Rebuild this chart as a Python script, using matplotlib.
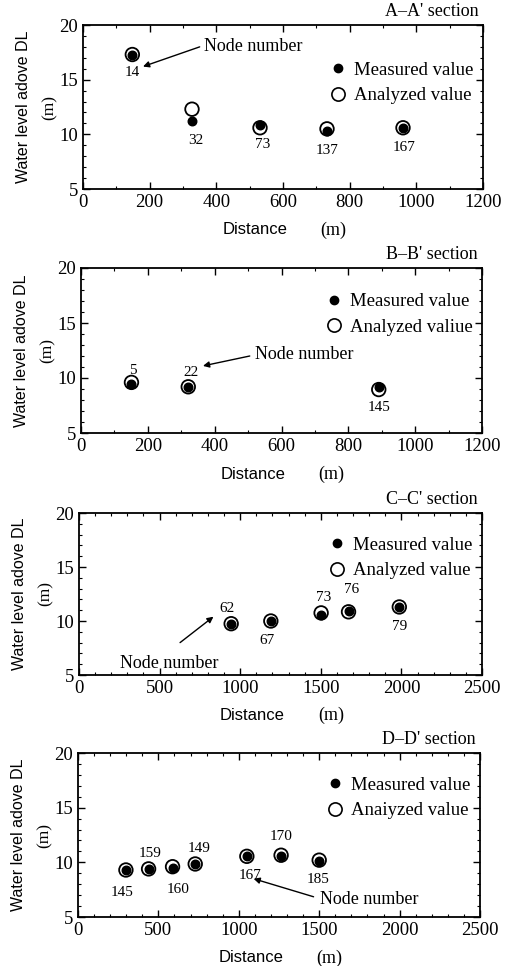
import matplotlib.pyplot as plt
from matplotlib.lines import Line2D
from matplotlib.ticker import MultipleLocator

plt.rcParams['font.family'] = ['Liberation Serif', 'DejaVu Serif']

# ---- data ----
a_nodes = ['14', '32', '73', '137', '167']
a_dist = [148, 327, 531, 732, 960]
a_meas = [17.3, 11.2, 10.85, 10.3, 10.6]
a_anal = [17.3, 12.3, 10.6, 10.5, 10.6]

b_nodes = ['5', '22', '145']
b_dist = [151, 321, 891]
b_meas = [9.5, 9.2, 9.2]
b_anal = [9.6, 9.2, 8.95]

c_nodes = ['62', '67', '73', '76', '79']
c_dist = [944, 1190, 1502, 1672, 1987]
c_meas = [9.75, 10.0, 10.55, 10.95, 11.3]
c_anal = [9.75, 10.0, 10.75, 10.85, 11.3]

d_nodes = ['145', '159', '160', '149', '167', '170', '185']
d_dist = [298, 439, 588, 729, 1050, 1263, 1500]
d_meas = [9.3, 9.4, 9.45, 9.85, 10.55, 10.6, 10.1]
d_anal = [9.3, 9.4, 9.6, 9.85, 10.55, 10.65, 10.2]

# label offsets (points) for node numbers
a_off = [(0, -13), (3, -14), (2, -14), (0, -14), (1, -14)]
b_off = [(1, 9), (2, 10), (0, -15)]
c_off = [(-3, 11), (-3, -14), (2, 13), (2, 15), (0, -14)]
d_off = [(-3, -16), (1, 11), (4, -15), (3, 11), (2, -14), (0, 14), (-1, -13)]

panels = [
    dict(title="A\u2013A' section", nodes=a_nodes, x=a_dist, m=a_meas, a=a_anal, off=a_off,
         xmax=1200, xmaj=200, xmin=100, leg2='Analyzed value', leg_y=0.835,
         rect=[83 / 513, 1 - 189 / 966, 400 / 513, 164 / 966],
         note=(350, 18.0), tip=(180, 16.2), ntext=(362, 18.05)),
    dict(title="B\u2013B' section", nodes=b_nodes, x=b_dist, m=b_meas, a=b_anal, off=b_off,
         xmax=1200, xmaj=200, xmin=100, leg2='Analyzed valiue', leg_y=0.905,
         rect=[81 / 513, 1 - 433 / 966, 401 / 513, 165 / 966],
         note=(505, 12.0), tip=(365, 11.1), ntext=(520, 12.1)),
    dict(title="C\u2013C' section", nodes=c_nodes, x=c_dist, m=c_meas, a=c_anal, off=c_off,
         xmax=2500, xmaj=500, xmin=100, leg2='Analyzed value', leg_y=0.915,
         rect=[79 / 513, 1 - 675 / 966, 403 / 513, 162 / 966],
         note=(627, 8.0), tip=(834, 10.4), ntext=(255, 6.1)),
    dict(title="D\u2013D' section", nodes=d_nodes, x=d_dist, m=d_meas, a=d_anal, off=d_off,
         xmax=2500, xmaj=500, xmin=100, leg2='Anaiyzed value', leg_y=0.915,
         rect=[78 / 513, 1 - 917 / 966, 402 / 513, 164 / 966],
         note=(1465, 6.85), tip=(1092, 8.5), ntext=(1506, 6.6)),
]

fig = plt.figure(figsize=(5.13, 9.66), dpi=100)

for p in panels:
    ax = fig.add_axes(p['rect'])
    ax.scatter(p['x'], p['a'], s=95, facecolors='none', edgecolors='black', linewidths=1.3, zorder=3)
    ax.scatter(p['x'], p['m'], s=38, color='black', zorder=4)

    for name, xv, yv, off in zip(p['nodes'], p['x'], p['m'], p['off']):
        ax.annotate(name, (xv, yv), xytext=off, textcoords='offset points',
                    ha='center', va='center', fontsize=11)

    ax.annotate('', xy=p['tip'], xytext=p['note'],
                arrowprops=dict(arrowstyle='-|>', color='black', lw=1, mutation_scale=9,
                                shrinkA=0, shrinkB=0))
    ax.text(p['ntext'][0], p['ntext'][1], 'Node number', fontsize=13, va='center', ha='left')

    handles = [Line2D([], [], marker='o', ls='none', color='black', markersize=6),
               Line2D([], [], marker='o', ls='none', markerfacecolor='none',
                      markeredgecolor='black', markeredgewidth=1.2, markersize=9.5)]
    ax.legend(handles, ['Measured value', p['leg2']], loc='upper right',
              bbox_to_anchor=(1.005, p['leg_y'] + 0.01), frameon=False, fontsize=13.5,
              borderpad=0.1, handletextpad=0.25, labelspacing=0.45, handlelength=1.2)

    ax.set_xlim(0, p['xmax'])
    ax.set_ylim(5, 20)
    ax.xaxis.set_major_locator(MultipleLocator(p['xmaj']))
    ax.xaxis.set_minor_locator(MultipleLocator(p['xmin']))
    ax.yaxis.set_major_locator(MultipleLocator(5))
    ax.yaxis.set_minor_locator(MultipleLocator(1))
    ax.tick_params(which='both', direction='in', top=True, right=True, labelsize=13.5)
    ax.tick_params(which='major', length=5, width=1)
    ax.tick_params(which='minor', length=2.5, width=0.8)
    for s in ax.spines.values():
        s.set_linewidth(1.3)

    ax.text(0.99, 1.03, p['title'], transform=ax.transAxes, ha='right', va='bottom', fontsize=13)
    ax.text(0.43, -0.25, 'Distance', transform=ax.transAxes, ha='center', va='center',
            fontsize=12, family='Liberation Sans')
    ax.text(0.625, -0.25, '(m)', transform=ax.transAxes, ha='center', va='center', fontsize=13)
    ax.text(-0.148, 0.5, 'Water level adove DL', transform=ax.transAxes, rotation=90,
            ha='center', va='center', fontsize=11.5, family='Liberation Sans')
    ax.text(-0.083, 0.5, '(m)', transform=ax.transAxes, rotation=90,
            ha='center', va='center', fontsize=12.5)

fig.savefig('out.png', dpi=100)
